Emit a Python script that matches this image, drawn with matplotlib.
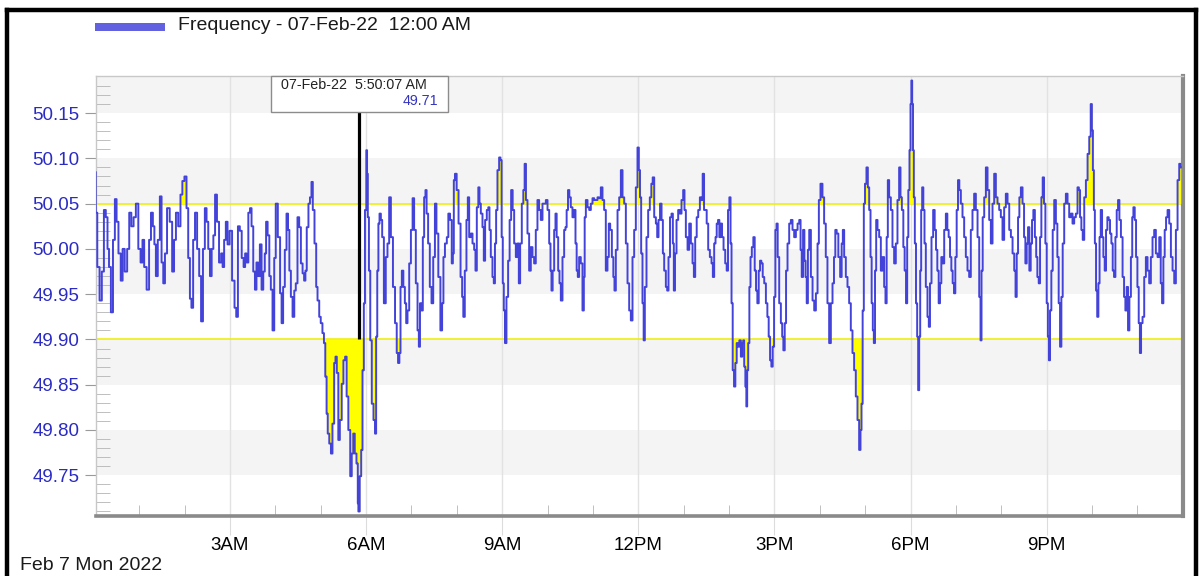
import numpy as np
import matplotlib
matplotlib.use("Agg")
import matplotlib.pyplot as plt
from matplotlib.patches import Rectangle
from matplotlib.lines import Line2D

plt.rcParams['font.family'] = ['Liberation Sans', 'DejaVu Sans']

# ----------------------------------------------------------------------------------------
# grid frequency readings, (minute of day, Hz)
readings_00_04 = [
    (2, 50.085), (3, 50.040), (6, 49.980), (9, 49.943), (12, 49.975), (14.5, 50.043),
    (17, 50.035), (19, 50.000), (21, 49.980), (24, 49.930), (26.5, 50.010), (29, 50.055),
    (31, 50.030), (34, 49.995), (37, 49.965), (39, 50.000), (42.5, 49.975), (45.5, 50.000),
    (48, 50.040), (51, 50.025), (54, 50.035), (57, 50.050), (60.5, 50.000), (63, 49.985),
    (65.5, 50.010), (67.5, 49.980), (72, 49.955), (74, 50.010), (77, 50.040), (79, 50.025),
    (81, 50.005), (83, 49.970), (86, 50.010), (88.5, 50.058), (90.5, 49.985), (93, 49.962),
    (95, 49.995), (98.5, 50.045), (102, 50.030), (105, 49.975), (107, 50.010), (110, 50.040),
    (113, 50.025), (116, 50.060), (118, 50.075), (121.5, 50.080), (123.5, 50.045), (126, 49.990),
    (128, 49.945), (130, 49.935), (132.5, 50.010), (135, 50.040), (138, 50.000), (140.5, 49.970),
    (143, 49.920), (145.5, 50.000), (148, 50.045), (150, 50.030), (152.5, 50.000), (154.5, 49.970),
    (157, 50.000), (159, 50.015), (161.5, 50.060), (164, 50.030), (167, 49.985), (169.5, 49.995),
    (171, 49.980), (173.5, 50.010), (175.5, 50.030), (178, 50.005), (181, 50.020), (184.5, 49.965),
    (187.5, 49.935), (189, 49.925), (192, 50.025), (194, 50.020), (197, 49.990), (199, 49.980),
    (201, 49.995), (203, 49.985), (205.5, 50.040), (207.5, 50.045), (209.5, 50.025), (212, 49.975),
    (214, 49.955), (216, 49.985), (218.5, 49.970), (220.5, 50.005), (223, 49.955), (225, 49.975),
    (227, 49.995), (228.5, 50.030), (231, 50.015), (233, 49.970), (235, 49.955), (237.5, 49.910),
    (239.5, 49.990), (241.5, 50.050),
]

readings_04_08 = [
    (245, 50.013), (247.5, 49.951), (249, 49.918), (251.5, 49.958), (253.5, 49.999), (256, 50.039),
    (257.5, 50.021), (259.5, 49.976), (261.5, 49.947), (264, 49.925), (266, 49.954), (268, 49.962),
    (270.5, 50.035), (272.5, 50.024), (275, 49.984), (277, 49.973), (279, 49.965), (280.5, 49.976),
    (282.5, 50.024), (285, 50.050), (286.5, 50.057), (289, 50.074), (290, 50.043), (293.5, 50.006),
    (294.5, 49.958), (297, 49.943), (299, 49.925), (301, 49.918), (303.5, 49.907), (305, 49.896),
    (307, 49.859), (308.5, 49.818), (310, 49.796), (312.5, 49.785), (314.5, 49.774), (316.5, 49.807),
    (319, 49.874), (320, 49.881), (322.5, 49.863), (324, 49.789), (326.5, 49.811), (329, 49.851),
    (331, 49.877), (333.5, 49.881), (335, 49.837), (338, 49.800), (340, 49.749), (342, 49.774),
    (344, 49.796), (346, 49.774), (348.5, 49.763), (349.5, 49.719), (350.1, 49.710), (353, 49.749),
    (354, 49.778), (356.5, 49.866), (357.5, 49.940), (359.5, 50.043), (361, 50.109), (361.5, 50.083),
    (363, 50.035), (364.5, 49.976), (366.5, 49.899), (368.5, 49.829), (371, 49.811), (372.5, 49.796),
    (374, 49.903), (375.5, 49.976), (377, 50.028), (378.5, 50.039), (380.5, 50.032), (382, 50.013),
    (385, 49.940), (387, 49.991), (389.5, 50.006), (391.5, 50.057), (394, 50.013), (397, 49.958),
    (399.5, 49.918), (401.5, 49.885), (403, 49.874), (405, 49.885), (406, 49.958), (408.5, 49.976),
    (410, 49.958), (412.5, 49.940), (413.5, 49.918), (416, 49.932), (418, 49.984), (420.5, 50.021),
    (422.5, 50.056), (424.5, 50.021), (427, 49.962), (429, 49.910), (430.5, 49.892), (432, 49.940),
    (434.5, 49.932), (435.5, 50.013), (438, 50.057), (439, 50.065), (441, 50.039), (443, 50.006),
    (445.5, 49.958), (447.5, 49.940), (450, 49.991), (452, 50.050), (454, 50.017), (457, 49.969),
    (459.5, 49.910), (461.5, 49.940), (463, 49.991), (465.5, 50.006), (468, 50.013), (469.5, 50.039),
    (472.5, 50.032), (474, 49.984), (475.5, 49.995), (476.5, 50.076), (478.5, 50.083), (481, 50.065),
    (483.5, 50.028),
]

readings_08_12 = [
    (486.3, 49.969), (487.7, 49.947), (489.4, 49.925), (491.6, 49.976), (493.8, 50.032), (495.2, 50.057),
    (497.4, 50.013), (499.6, 50.017), (501.8, 50.006), (504, 49.999), (505.3, 49.976), (507.5, 50.046),
    (509.3, 50.068), (510.6, 50.050), (512.8, 50.039), (515, 50.024), (516.3, 49.987), (518.5, 50.032),
    (520.7, 50.043), (522.5, 50.046), (523.8, 50.021), (526, 49.991), (528.2, 49.969), (529.5, 49.962),
    (531.3, 50.006), (532.6, 50.043), (534.8, 50.087), (537, 50.101), (538.4, 50.098), (540.1, 50.013),
    (541.4, 49.962), (542.8, 49.932), (544.5, 49.896), (546.7, 49.947), (548.9, 49.987), (550.7, 50.032),
    (552.9, 50.065), (554.7, 50.043), (556.9, 50.006), (559.1, 49.991), (561.3, 50.006), (562.6, 49.962),
    (564.8, 50.006), (567, 50.050), (568.8, 50.065), (570.5, 50.094), (572.3, 50.054), (574.5, 50.017),
    (576.7, 49.976), (578.9, 50.002), (581.1, 49.991), (583.3, 49.984), (585.5, 50.021), (587.7, 50.054),
    (589.9, 50.043), (592.1, 50.032), (594.4, 50.050), (596.6, 50.050), (598.8, 50.054), (601, 50.043),
    (603.2, 50.006), (604.5, 49.976), (605.8, 49.954), (607.6, 49.976), (609.8, 50.021), (611.1, 50.039),
    (612.9, 50.013), (615.1, 49.976), (616.4, 49.962), (618.6, 49.943), (620.8, 49.991), (623, 50.021),
    (624.3, 50.024), (626.1, 50.043), (627.9, 50.065), (629.6, 50.057), (631.8, 50.046), (634, 50.035),
    (636.2, 50.043), (637.6, 50.006), (639.3, 49.976), (640.6, 49.969), (642.8, 49.991), (645, 49.984),
    (647.3, 49.932), (648.6, 49.969), (649.5, 50.035), (651.7, 50.054), (653.9, 50.046), (656.1, 50.043),
    (658.3, 50.050), (660.5, 50.056), (662.7, 50.054), (664.9, 50.054), (667.1, 50.057), (669.3, 50.056),
    (671.5, 50.068), (673.7, 50.054), (675.9, 50.043), (678.1, 49.976), (680.3, 49.991), (681.6, 50.028),
    (683.9, 50.021), (686.1, 49.991), (687.8, 49.969), (689.1, 49.954), (691.4, 49.999), (693.6, 50.043),
    (695.8, 50.057), (698, 50.087), (700.2, 50.057), (702.4, 50.050), (704.6, 50.006), (706.8, 49.962),
    (709, 49.932), (711.2, 49.921),
]

readings_12_16 = [
    (713.4, 49.991), (715.6, 50.021), (717.8, 50.068), (720, 50.112), (721.3, 50.087), (723.1, 50.057),
    (724.4, 49.995), (726.6, 49.940), (727.5, 49.899), (729.7, 49.958), (731.9, 50.013), (734.1, 50.043),
    (736.3, 50.057), (738.1, 50.072), (739.9, 50.079), (742.1, 50.035), (744.3, 50.028), (745.6, 50.013),
    (747.8, 50.032), (749.6, 50.050), (751.8, 50.032), (753.1, 49.995), (755.3, 49.976), (757.5, 49.958),
    (758.8, 49.954), (761, 49.991), (762.8, 50.035), (765, 50.039), (766.3, 50.006), (767.6, 49.954),
    (769.4, 49.995), (771.6, 50.032), (773.8, 50.043), (776, 50.039), (778.2, 50.054), (780.4, 50.065),
    (781.7, 50.043), (784, 50.013), (786.2, 49.999), (788.4, 50.028), (790.6, 50.006), (792.8, 49.984),
    (794.1, 49.969), (796.3, 50.013), (798.1, 50.035), (800.3, 50.043), (802.5, 50.057), (804.2, 50.054),
    (806, 50.083), (807.8, 50.043), (809.5, 50.043), (811.3, 50.028), (813.5, 49.999), (815.7, 49.991),
    (817.9, 49.984), (819.2, 49.969), (821.4, 50.006), (822.8, 50.013), (824.5, 50.028), (826.3, 50.032),
    (828, 50.013), (829.8, 50.028), (831.6, 50.013), (833.8, 49.999), (836, 49.984), (837.7, 49.976),
    (839.5, 50.043), (841.3, 50.057), (842.6, 50.006), (843.9, 49.940), (845.7, 49.866), (847.4, 49.848),
    (849.2, 49.874), (851, 49.896), (852.7, 49.892), (854.5, 49.899), (856.7, 49.881), (858, 49.896),
    (859.3, 49.899), (860.7, 49.870), (862.4, 49.848), (863.3, 49.826), (864.6, 49.866), (866, 49.896),
    (867.7, 49.958), (869, 49.991), (871.2, 50.002), (873, 50.013), (874.8, 49.976), (876.5, 49.954),
    (878.3, 49.940), (880.1, 49.976), (881.8, 49.987), (883.6, 49.984), (885.4, 49.969), (887.6, 49.962),
    (889.8, 49.940), (891.5, 49.925), (893.3, 49.903), (895.1, 49.877), (896.8, 49.870), (898.6, 49.892),
    (900.4, 49.947), (902.1, 50.021), (903.4, 50.028), (905.2, 49.991), (907.4, 49.940), (909.6, 49.918),
    (910.9, 49.903), (912.7, 49.888), (914.5, 49.918), (916.2, 49.976), (918.4, 50.006), (920.6, 50.028),
    (922.8, 50.032), (925, 50.021), (927.2, 50.013), (929.5, 50.021), (931.7, 50.028), (933.9, 50.032),
    (935.2, 49.999), (937, 49.969), (938.7, 50.021), (940.5, 49.987), (941.8, 49.969), (943.6, 49.940),
    (944.9, 49.999), (947.1, 50.021), (949.3, 49.969), (951.5, 49.943), (953.7, 49.932), (955.9, 49.951),
    (958.1, 50.006), (959.4, 50.054),
]

readings_16_20 = [
    (962.4, 50.072), (964.6, 50.057), (966.8, 50.028), (969, 49.991), (971.2, 49.940), (973.5, 49.896),
    (975.7, 49.940), (977.9, 49.962), (979.6, 49.991), (981.4, 50.021), (983.2, 50.017), (985.8, 49.991),
    (988, 49.969), (989.8, 50.006), (991.1, 50.021), (993.3, 49.991), (995.5, 49.969), (997.7, 49.958),
    (999.9, 49.940), (1002.1, 49.910), (1004.3, 49.885), (1006.5, 49.866), (1008.7, 49.837), (1010.9, 49.811),
    (1013.1, 49.778), (1014.5, 49.800), (1015.8, 49.829), (1017.5, 49.932), (1018.9, 50.050), (1020.6, 50.072),
    (1022.8, 50.090), (1024.2, 50.068), (1026.4, 50.043), (1027.7, 49.991), (1029.4, 49.940), (1030.8, 49.910),
    (1032.1, 49.896), (1033.9, 49.976), (1035.2, 50.032), (1037.4, 50.021), (1039.6, 50.013), (1041.8, 49.976),
    (1044, 49.991), (1046.2, 49.958), (1047.5, 49.940), (1049.3, 50.013), (1050.6, 50.076), (1052.8, 50.057),
    (1055, 50.043), (1057.2, 50.002), (1059.4, 49.984), (1061.6, 50.006), (1063.8, 50.054), (1066, 50.090),
    (1067.4, 50.057), (1069.6, 50.043), (1071.3, 50.002), (1073.1, 49.976), (1074.9, 49.940), (1076.2, 50.013),
    (1077.9, 50.065), (1079.3, 50.109), (1080.6, 50.160), (1081.5, 50.186), (1082.8, 50.160), (1083.7, 50.109),
    (1085, 50.057), (1086.3, 50.006), (1088.1, 49.940), (1089.4, 49.903), (1090.7, 49.844), (1092.1, 49.903),
    (1093.4, 49.976), (1094.7, 50.043), (1096, 50.068), (1097.8, 50.043), (1099.1, 50.006), (1101.3, 49.958),
    (1103.5, 49.925), (1104.8, 49.914), (1106.6, 49.962), (1108.8, 50.013), (1111, 50.043), (1112.8, 50.021),
    (1114.5, 49.999), (1116.3, 49.976), (1118.1, 49.940), (1119.8, 49.962), (1121.6, 49.991), (1123.4, 49.984),
    (1125.6, 50.021), (1127.8, 50.039), (1129.5, 50.021), (1131.3, 50.013), (1133.1, 49.991), (1134.8, 49.976),
    (1136.6, 49.962), (1138.3, 49.951), (1140.1, 49.991), (1141.9, 50.043), (1143.6, 50.076), (1145.4, 50.065),
    (1147.6, 50.050), (1149.8, 50.035), (1152, 50.013), (1154.2, 49.991), (1156.4, 49.976), (1158.6, 49.969),
    (1160.8, 50.021), (1163, 50.043), (1165.2, 50.061), (1167.5, 50.043), (1169.7, 50.013), (1171.9, 49.947),
    (1173.2, 49.899), (1174.5, 49.976), (1176.3, 50.035), (1178.5, 50.057), (1180.7, 50.090), (1182.9, 50.065),
    (1185.1, 50.032), (1187.3, 50.006), (1189.5, 50.050), (1191.7, 50.083),
]

readings_20_24 = [
    (1193.9, 50.057), (1196.1, 50.050), (1198.3, 50.043), (1200.5, 50.035), (1202.7, 50.010), (1204.9, 50.046),
    (1207.1, 50.061), (1209.4, 50.050), (1211.6, 50.021), (1213.8, 50.013), (1216, 49.995), (1218.2, 49.976),
    (1219.5, 49.947), (1221.3, 49.995), (1223, 50.035), (1224.8, 50.057), (1227, 50.068), (1229.2, 50.050),
    (1231, 50.013), (1232.7, 49.984), (1234.5, 50.006), (1236.2, 50.024), (1238, 49.976), (1239.8, 50.006),
    (1241.5, 50.032), (1243.3, 50.043), (1245.5, 50.013), (1246.8, 49.991), (1248.6, 49.969), (1250.4, 49.962),
    (1252.1, 50.013), (1253.9, 50.057), (1255.6, 50.079), (1257.4, 50.050), (1259.2, 50.006), (1260.9, 49.940),
    (1262.3, 49.903), (1263.6, 49.877), (1265.3, 49.932), (1267.1, 49.976), (1268.9, 50.021), (1271.1, 50.054),
    (1273.3, 50.028), (1275, 49.991), (1276.8, 49.940), (1278.6, 49.892), (1280.3, 49.947), (1282.1, 50.006),
    (1284.3, 50.050), (1286.5, 50.061), (1288.7, 50.050), (1290.9, 50.035), (1293.1, 50.039), (1295.3, 50.028),
    (1297.5, 50.035), (1299.7, 50.039), (1301.9, 50.068), (1303.3, 50.065), (1305, 50.035), (1306.8, 50.021),
    (1308.6, 50.010), (1310.8, 50.057), (1313, 50.076), (1315.2, 50.105), (1317.4, 50.124), (1319.1, 50.160),
    (1320.5, 50.131), (1321.8, 50.087), (1323.1, 50.043), (1324.4, 50.006), (1326.2, 49.954), (1327.5, 49.925),
    (1329.3, 49.962), (1330.6, 50.013), (1332.4, 50.043), (1334.1, 50.013), (1335.9, 49.991), (1337.6, 49.976),
    (1339.4, 50.021), (1341.2, 50.035), (1342.9, 50.032), (1344.7, 50.017), (1346.5, 50.006), (1348.2, 49.976),
    (1350, 49.969), (1351.8, 50.013), (1353.5, 50.043), (1355.3, 50.054), (1357.1, 50.032), (1359.3, 50.013),
    (1361.5, 49.969), (1363.2, 49.947), (1365, 49.932), (1366.7, 49.958), (1368.5, 49.910), (1370.3, 49.947),
    (1372.5, 49.991), (1373.8, 50.035), (1375.6, 50.046), (1377.3, 50.032), (1379.1, 49.991), (1380.9, 49.958),
    (1382.6, 49.918), (1384, 49.885), (1385.7, 49.918), (1387.9, 49.925), (1390.1, 49.969), (1392.3, 49.991),
    (1394.5, 49.976), (1396.7, 49.962), (1398.9, 49.991), (1401.1, 50.013), (1403.3, 50.021), (1405.5, 49.995),
    (1407.8, 49.991), (1410, 50.013), (1411.7, 49.962), (1413.5, 49.940), (1415.2, 49.991), (1417, 50.021),
    (1418.8, 50.035), (1421, 50.043), (1423.2, 50.028), (1425.4, 49.991), (1427.6, 49.976), (1429.8, 49.962),
    (1432, 50.021), (1434.2, 50.076), (1436.4, 50.094), (1437.3, 50.090),
]

# axis labels and limits
x_tick_minutes = [180, 360, 540, 720, 900, 1080, 1260]
x_tick_labels = ["3AM", "6AM", "9AM", "12PM", "3PM", "6PM", "9PM"]
y_ticks = [49.75, 49.80, 49.85, 49.90, 49.95, 50.00, 50.05, 50.10, 50.15]
high_limit = 50.05
low_limit = 49.90

# cursor readout
cursor_minute = 350.1
cursor_value = 49.71
cursor_text = "07-Feb-22  5:50:07 AM"
legend_text = "Frequency - 07-Feb-22  12:00 AM"
date_text = "Feb 7 Mon 2022"
# ----------------------------------------------------------------------------------------

readings = (readings_00_04 + readings_04_08 + readings_08_12
            + readings_12_16 + readings_16_20 + readings_20_24)
t = np.array([r[0] for r in readings])
f = np.array([r[1] for r in readings])

W, H = 1203, 576
fig = plt.figure(figsize=(W / 100, H / 100), dpi=100)
fig.patch.set_facecolor("white")

# plot area in pixels: x 96..1183, y 76..516
ax = fig.add_axes([96 / W, 1 - 516 / H, (1183 - 96) / W, (516 - 76) / H])
ax.set_xlim(2.8, 1440.3)
ax.set_ylim(49.705, 50.191)

# alternating bands
for lo in [49.75, 49.85, 49.95, 50.05, 50.15]:
    ax.axhspan(lo, lo + 0.05, color="#f4f4f4", lw=0, zorder=0)

# vertical grid
for m in x_tick_minutes:
    ax.axvline(m, color="#e2e2e2", lw=1, zorder=1)

# limit lines and excursions (trend is drawn as steps)
ax.axhline(high_limit, color="#eeee00", lw=1.1, zorder=2)
ax.axhline(low_limit, color="#eeee00", lw=1.1, zorder=2)
ax.fill_between(t, np.maximum(f, high_limit), high_limit, step="mid",
                color="#ffff00", lw=0, zorder=3)
ax.fill_between(t, np.minimum(f, low_limit), low_limit, step="mid",
                color="#ffff00", lw=0, zorder=3)

# frequency trace
ax.plot(t, f, color="#4343da", lw=1.4, drawstyle="steps-mid", zorder=4)

# cursor line up to the readout box
ax.vlines(cursor_minute, low_limit, 50.151, color="black", lw=2.3, zorder=5)

# ticks
ax.set_xticks(x_tick_minutes)
ax.set_xticklabels(x_tick_labels, fontsize=13.5)
ax.set_xticks(np.arange(60, 1440, 60), minor=True)
ax.tick_params(axis="x", which="major", direction="out", length=14, color="#dcdcdc",
               pad=1, labelcolor="black")
ax.tick_params(axis="x", which="minor", direction="in", length=8, color="#b4b4b4")

ax.set_yticks(y_ticks)
ax.set_yticklabels([f"{v:.2f}" for v in y_ticks], fontsize=13.5)
ax.set_yticks(np.arange(49.71, 50.19, 0.01), minor=True)
ax.tick_params(axis="y", which="major", direction="out", length=8, color="#9a9a9a",
               pad=4, labelcolor="#2b2bc4")
ax.tick_params(axis="y", which="minor", direction="in", length=10, color="#b4b4b4")

# frame, with the grey "shadow" on bottom and right
ax.spines["top"].set_color("#c8c8c8")
ax.spines["left"].set_color("#c8c8c8")
ax.spines["top"].set_linewidth(1)
ax.spines["left"].set_linewidth(1)
ax.spines["bottom"].set_color("#8a8a8a")
ax.spines["bottom"].set_linewidth(2.6)
ax.spines["right"].set_color("#8a8a8a")
ax.spines["right"].set_linewidth(3)

# readout box
fig.patches.append(Rectangle((271 / W, 1 - 112 / H), (448 - 271) / W, 36 / H,
                             transform=fig.transFigure, facecolor="white",
                             edgecolor="#8c8c8c", lw=1, zorder=6))
fig.text(281 / W, 1 - 85 / H, cursor_text, fontsize=10.3, color="#222222",
         va="center", ha="left", zorder=7)
fig.text(438 / W, 1 - 101 / H, f"{cursor_value:.2f}", fontsize=10.3, color="#3434c0",
         va="center", ha="right", zorder=7)

# legend
fig.patches.append(Rectangle((95 / W, 1 - 31 / H), 70 / W, 8 / H,
                             transform=fig.transFigure, facecolor="#6262e0", lw=0))
fig.text(178 / W, 1 - 26 / H, legend_text, fontsize=14, color="#1a1a1a",
         va="center", ha="left")

# date caption
fig.text(20 / W, 1 - 565 / H, date_text, fontsize=14, color="#1a1a1a",
         va="center", ha="left")

# outer black frame (bottom edge runs off the picture)
frame_kw = dict(color="black", lw=3.2, transform=fig.transFigure)
fig.lines.append(Line2D([7 / W, 7 / W], [0, 1 - 10 / H], **frame_kw))
fig.lines.append(Line2D([7 / W, 1196 / W], [1 - 10 / H, 1 - 10 / H], **frame_kw))
fig.lines.append(Line2D([1196 / W, 1196 / W], [0, 1 - 10 / H], **frame_kw))

fig.savefig("out.png", dpi=100)
